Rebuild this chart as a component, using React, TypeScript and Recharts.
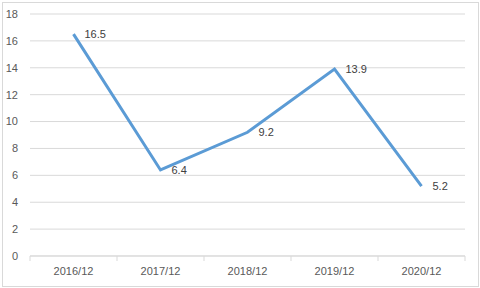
import React from "react";
import { CartesianGrid, LabelList, Line, LineChart, XAxis, YAxis } from "recharts";

const periods = ["2016/12", "2017/12", "2018/12", "2019/12", "2020/12"];
const values = [16.5, 6.4, 9.2, 13.9, 5.2];
const yTicks = [0, 2, 4, 6, 8, 10, 12, 14, 16, 18];

const data = periods.map((period, i) => ({ period, value: values[i] }));

const FONT = "'Liberation Sans', Arial, sans-serif";

// category axis with tick marks between the bands, like the spreadsheet chart
function BandTick(props: any) {
  const { x, y, payload, width, visibleTicksCount, index } = props;
  const band = width / visibleTicksCount;
  return (
    <g>
      <line x1={x - band / 2} x2={x - band / 2} y1={y - 8} y2={y - 3} stroke="#d9d9d9" />
      {index === visibleTicksCount - 1 && (
        <line x1={x + band / 2} x2={x + band / 2} y1={y - 8} y2={y - 3} stroke="#d9d9d9" />
      )}
      <text x={x} y={y + 8} textAnchor="middle" dominantBaseline="middle" fill="#595959" fontSize={11} fontFamily={FONT}>
        {payload.value}
      </text>
    </g>
  );
}

export default function App(): React.ReactElement {
  return (
    <div style={{ position: "absolute", left: 0, top: 0, width: 480, height: 288, background: "#fff" }}>
      <div
        style={{
          position: "absolute",
          left: 2,
          top: 2,
          width: 475,
          height: 283,
          border: "1px solid #d9d9d9",
        }}
      />
      <LineChart width={480} height={288} data={data} margin={{ top: 14, right: 15, bottom: 0, left: 0 }}>
        <CartesianGrid vertical={false} stroke="#d9d9d9" />
        <XAxis
          dataKey="period"
          scale="band"
          height={32}
          stroke="#d9d9d9"
          tickLine={false}
          tick={<BandTick />}
          interval={0}
        />
        <YAxis
          width={30}
          domain={[0, 18]}
          ticks={yTicks}
          axisLine={false}
          tickLine={false}
          tickMargin={6}
          tick={{ fill: "#595959", fontSize: 11, fontFamily: FONT }}
        />
        <Line
          type="linear"
          dataKey="value"
          stroke="#5b9bd5"
          strokeWidth={3}
          dot={false}
          isAnimationActive={false}
        >
          <LabelList
            dataKey="value"
            position="right"
            offset={11}
            fill="#404040"
            fontSize={11}
            fontFamily={FONT}
          />
        </Line>
      </LineChart>
    </div>
  );
}
